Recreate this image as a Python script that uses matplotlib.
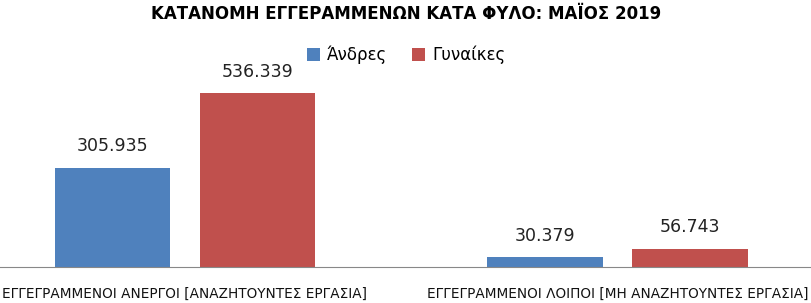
import matplotlib

matplotlib.use("Agg")

import matplotlib.pyplot as plt
import numpy as np

TITLE = "ΚΑΤΑΝΟΜΗ ΕΓΓΕΡΑΜΜΕΝΩΝ ΚΑΤΑ ΦΥΛΟ: ΜΑΪΟΣ 2019"
categories = [
    "ΕΓΓΕΓΡΑΜΜΕΝΟΙ ΑΝΕΡΓΟΙ [ΑΝΑΖΗΤΟΥΝΤΕΣ ΕΡΓΑΣΙΑ]",
    "ΕΓΓΕΓΡΑΜΜΕΝΟΙ ΛΟΙΠΟΙ [ΜΗ ΑΝΑΖΗΤΟΥΝΤΕΣ ΕΡΓΑΣΙΑ]",
]
series_names = ["Άνδρες", "Γυναίκες"]
men = [305935, 30379]
women = [536339, 56743]

BLUE = "#4F81BD"
RED = "#C0504D"

plt.rcParams["font.family"] = ["DejaVu Sans"]


def fmt(v):
    return f"{v:,}".replace(",", ".")


fig = plt.figure(figsize=(8.12, 3.03), dpi=100)
ax = fig.add_axes([0.0, 0.1188, 1.0, 0.6422])

x = np.arange(len(categories))
width = 0.266
offset = 0.1676
b1 = ax.bar(x - offset, men, width, color=BLUE, label=series_names[0])
b2 = ax.bar(x + offset, women, width, color=RED, label=series_names[1])

for bars, vals in ((b1, men), (b2, women)):
    for rect, v in zip(bars, vals):
        ax.annotate(fmt(v), (rect.get_x() + rect.get_width() / 2, rect.get_height()),
                    xytext=(0, 9), textcoords="offset points", ha="center", va="bottom",
                    fontsize=12.5, color="#222222")

ax.set_xlim(-0.4277, 1.4497)
ax.set_ylim(0, 600000)
ax.set_xticks(x, categories)
ax.tick_params(axis="x", length=0, pad=14, labelcolor="#111111")
for lbl in ax.get_xticklabels():
    lbl.set_fontsize(9.8)
ax.set_yticks([])
for side in ("top", "left", "right"):
    ax.spines[side].set_visible(False)
ax.spines["bottom"].set_color("#888888")

fig.text(0.5, 0.955, TITLE, ha="center", va="center", fontsize=12, fontweight="bold")
fig.legend(loc="center", bbox_to_anchor=(0.5, 0.818), ncol=2, frameon=False,
           handlelength=0.8, handleheight=0.8, handletextpad=0.4,
           columnspacing=1.5, prop={"size": 12})

fig.savefig("out.png", dpi=100)
